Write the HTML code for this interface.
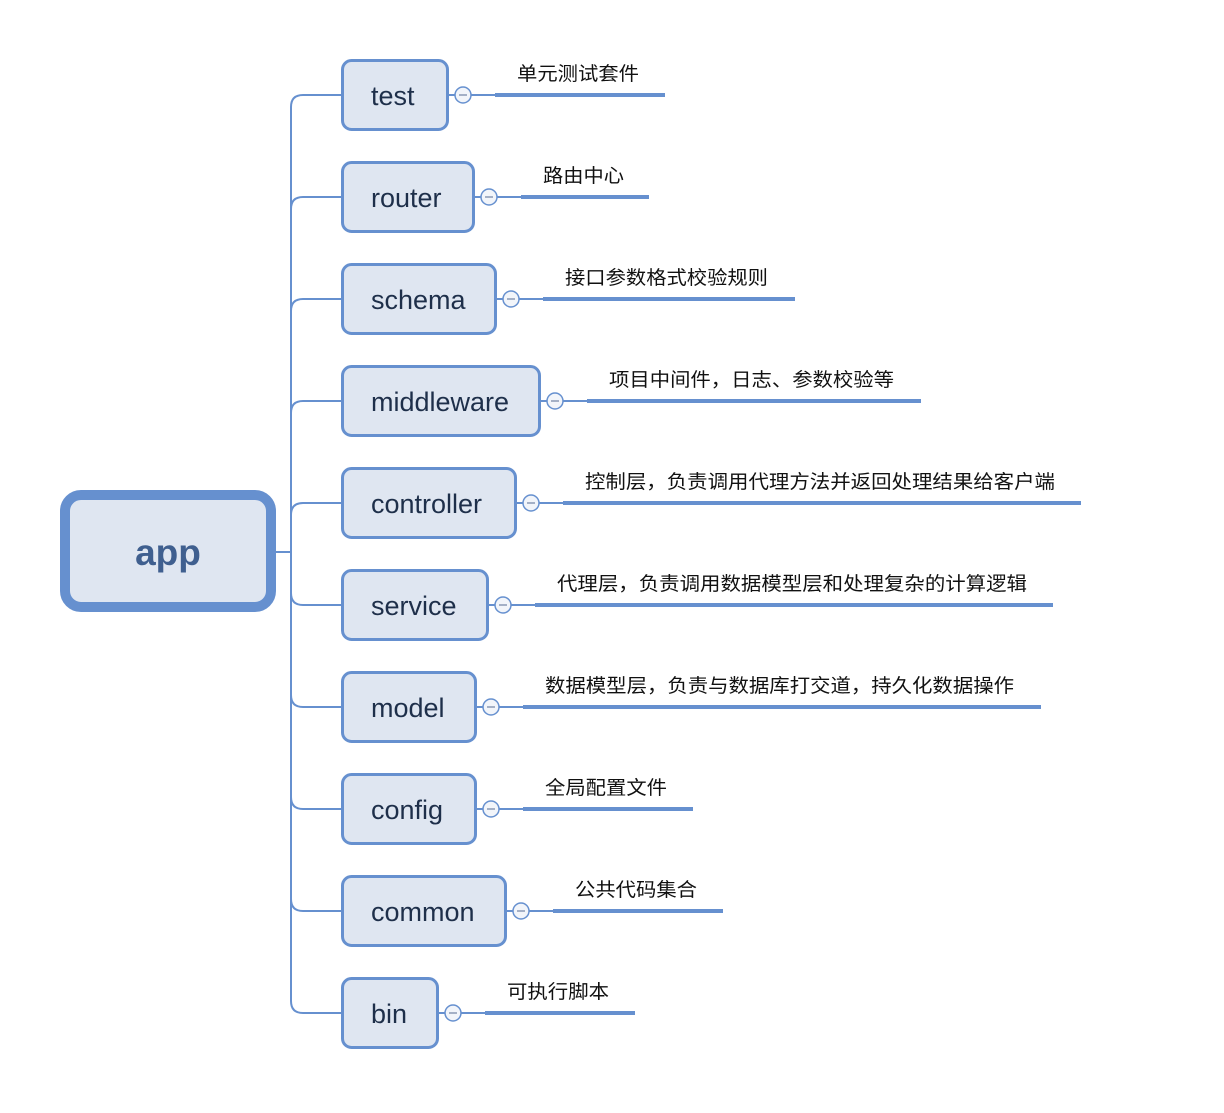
<!DOCTYPE html>
<html><head><meta charset="utf-8"><style>
html,body{margin:0;padding:0;background:#fff;}
svg text{font-family:"Liberation Sans","Noto Sans CJK SC",sans-serif;}
.b{fill:#dfe6f1;stroke:#6690cf;stroke-width:3}
.n{font-size:27px;fill:#1e2f4a}
.l{font-size:19px;fill:#111}
.c{fill:#f2f5fa;stroke:#6690cf;stroke-width:1.5}
</style></head><body>
<svg width="1224" height="1108" viewBox="0 0 1224 1108" xmlns="http://www.w3.org/2000/svg">
<g fill="none" stroke="#6690cf" stroke-width="2">
<path d="M276 552 H291"/>
<path d="M341 95 H303 Q291 95 291 107 V1001 Q291 1013 303 1013 H341"/>
<path d="M291 209 Q291 197 303 197 H341"/>
<path d="M291 311 Q291 299 303 299 H341"/>
<path d="M291 413 Q291 401 303 401 H341"/>
<path d="M291 515 Q291 503 303 503 H341"/>
<path d="M291 593 Q291 605 303 605 H341"/>
<path d="M291 695 Q291 707 303 707 H341"/>
<path d="M291 797 Q291 809 303 809 H341"/>
<path d="M291 899 Q291 911 303 911 H341"/>
<path d="M449 95 H495 M475 197 H521 M497 299 H543 M541 401 H587 M517 503 H563 M489 605 H535 M477 707 H523 M477 809 H523 M507 911 H553 M439 1013 H485"/>
</g>
<g stroke="#6690cf" stroke-width="4">
<line x1="495" y1="95" x2="665" y2="95"/>
<line x1="521" y1="197" x2="649" y2="197"/>
<line x1="543" y1="299" x2="795" y2="299"/>
<line x1="587" y1="401" x2="921" y2="401"/>
<line x1="563" y1="503" x2="1081" y2="503"/>
<line x1="535" y1="605" x2="1053" y2="605"/>
<line x1="523" y1="707" x2="1041" y2="707"/>
<line x1="523" y1="809" x2="693" y2="809"/>
<line x1="553" y1="911" x2="723" y2="911"/>
<line x1="485" y1="1013" x2="635" y2="1013"/>
</g>
<rect x="65" y="495" width="206" height="112" rx="16" fill="#dfe6f1" stroke="#6690cf" stroke-width="10"/>
<text x="168" y="565" text-anchor="middle" font-size="37" font-weight="bold" fill="#3f5f8f">app</text>

<rect class="b" x="342.5" y="60.5" width="105" height="69" rx="9"/>
<rect class="b" x="342.5" y="162.5" width="131" height="69" rx="9"/>
<rect class="b" x="342.5" y="264.5" width="153" height="69" rx="9"/>
<rect class="b" x="342.5" y="366.5" width="197" height="69" rx="9"/>
<rect class="b" x="342.5" y="468.5" width="173" height="69" rx="9"/>
<rect class="b" x="342.5" y="570.5" width="145" height="69" rx="9"/>
<rect class="b" x="342.5" y="672.5" width="133" height="69" rx="9"/>
<rect class="b" x="342.5" y="774.5" width="133" height="69" rx="9"/>
<rect class="b" x="342.5" y="876.5" width="163" height="69" rx="9"/>
<rect class="b" x="342.5" y="978.5" width="95" height="69" rx="9"/>

<text class="n" x="371" y="105">test</text>
<text class="n" x="371" y="207">router</text>
<text class="n" x="371" y="309">schema</text>
<text class="n" x="371" y="411">middleware</text>
<text class="n" x="371" y="513">controller</text>
<text class="n" x="371" y="615">service</text>
<text class="n" x="371" y="717">model</text>
<text class="n" x="371" y="819">config</text>
<text class="n" x="371" y="921">common</text>
<text class="n" x="371" y="1023">bin</text>

<circle class="c" cx="463" cy="95" r="8"/>
<circle class="c" cx="489" cy="197" r="8"/>
<circle class="c" cx="511" cy="299" r="8"/>
<circle class="c" cx="555" cy="401" r="8"/>
<circle class="c" cx="531" cy="503" r="8"/>
<circle class="c" cx="503" cy="605" r="8"/>
<circle class="c" cx="491" cy="707" r="8"/>
<circle class="c" cx="491" cy="809" r="8"/>
<circle class="c" cx="521" cy="911" r="8"/>
<circle class="c" cx="453" cy="1013" r="8"/>
<path stroke="#8a9ab5" stroke-width="1.5" d="M459 95h8 M485 197h8 M507 299h8 M551 401h8 M527 503h8 M499 605h8 M487 707h8 M487 809h8 M517 911h8 M449 1013h8"/>

<text class="l" x="517" y="80" textLength="122" lengthAdjust="spacingAndGlyphs">单元测试套件</text>
<text class="l" x="543" y="182" textLength="81" lengthAdjust="spacingAndGlyphs">路由中心</text>
<text class="l" x="565" y="284" textLength="203" lengthAdjust="spacingAndGlyphs">接口参数格式校验规则</text>
<text class="l" x="609" y="386" textLength="285" lengthAdjust="spacingAndGlyphs">项目中间件，日志、参数校验等</text>
<text class="l" x="585" y="488" textLength="470" lengthAdjust="spacingAndGlyphs">控制层，负责调用代理方法并返回处理结果给客户端</text>
<text class="l" x="557" y="590" textLength="470" lengthAdjust="spacingAndGlyphs">代理层，负责调用数据模型层和处理复杂的计算逻辑</text>
<text class="l" x="545" y="692" textLength="469" lengthAdjust="spacingAndGlyphs">数据模型层，负责与数据库打交道，持久化数据操作</text>
<text class="l" x="545" y="794" textLength="122" lengthAdjust="spacingAndGlyphs">全局配置文件</text>
<text class="l" x="575" y="896" textLength="122" lengthAdjust="spacingAndGlyphs">公共代码集合</text>
<text class="l" x="507" y="998" textLength="102" lengthAdjust="spacingAndGlyphs">可执行脚本</text>
</svg>
</body></html>
